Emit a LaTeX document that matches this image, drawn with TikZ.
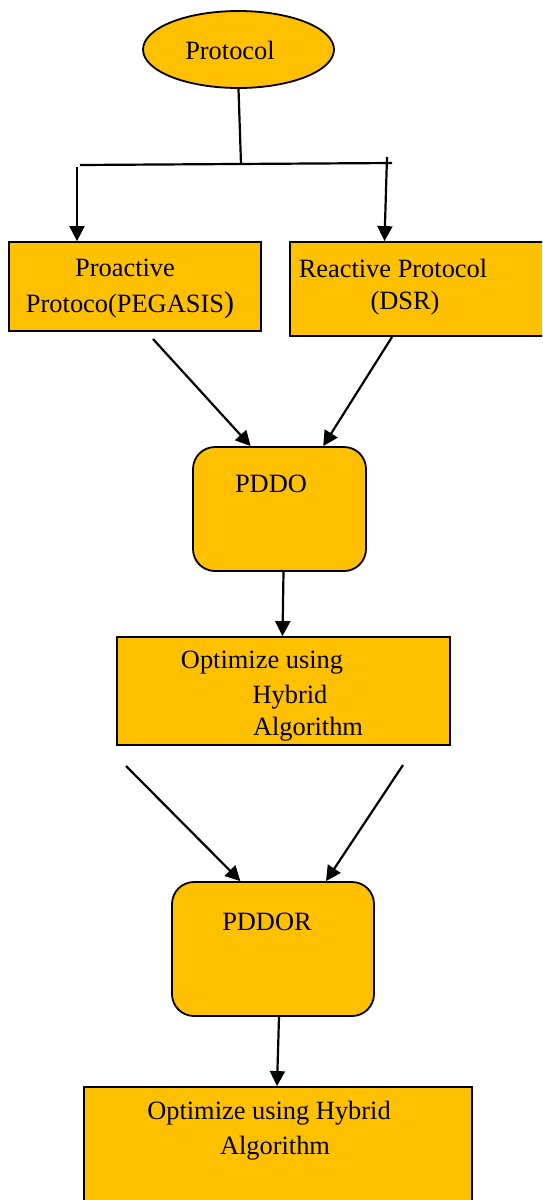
\documentclass[tikz,border=0pt]{standalone}
\usepackage{fontspec}
\setmainfont{Liberation Serif}
\usetikzlibrary{shapes.geometric,arrows.meta,calc}
\definecolor{gold}{RGB}{255,192,0}
\begin{document}
\begin{tikzpicture}[x=0.5pt,y=-0.5pt,
  box/.style={rectangle,draw,fill=gold,line width=0.9pt,inner sep=0pt},
  rbox/.style={box,rounded corners=11pt},
  txt/.style={inner sep=0pt,font=\fontsize{13.2}{16}\selectfont},
  ln/.style={line width=1.1pt},
  arr/.style={-{Triangle[length=7.5pt,width=7.5pt]},line width=1.1pt}]
	\useasboundingbox (0,0) rectangle (542,1200);
	\clip (0,0) rectangle (542,1200);
	% boxes
	\node[ellipse,draw,fill=gold,line width=0.9pt,inner sep=0pt,minimum width=95.5pt,minimum height=38.5pt] (proto) at (238.5,49.5) {};
	\node[box,minimum width=126pt,minimum height=44.5pt] (proact) at (135,286.5) {};
	\node[box,minimum width=128pt,minimum height=47pt] (react) at (418,289) {};
	\node[rbox,minimum width=86.5pt,minimum height=62pt] (pddo) at (279.5,509) {};
	\node[box,minimum width=166.5pt,minimum height=54pt] (opt) at (283.5,691) {};
	\node[rbox,minimum width=101pt,minimum height=67pt] (pddor) at (273,949) {};
	\node[box,minimum width=194pt,minimum height=59pt] (optb) at (278,1146) {};
	% texts
	\node[txt] (tproto) at (230,50) {Protocol};
	\node[txt] (tproa) at (125,268) {Proactive};
	\node[txt] (tprob) at (130,305) {Protoco(PEGASIS{\fontsize{15}{16}\selectfont)}};
	\node[txt] (treaa) at (393,268) {Reactive Protocol};
	\node[txt] (treab) at (405,303) {(DSR)};
	\node[txt] (tpddo) at (271,484) {PDDO};
	\node[txt] (topta) at (262,663) {Optimize using};
	\node[txt] (toptb) at (290,697) {Hybrid};
	\node[txt] (toptc) at (308,729) {Algorithm};
	\node[txt] (tpddor) at (267,922) {PDDOR};
	\node[txt] (toptd) at (269,1113) {Optimize using Hybrid};
	\node[txt] (topte) at (275,1148) {Algorithm};
	% connectors
	\coordinate (jn) at (241,164);
	\coordinate (hl) at (80,165);
	\coordinate (hr) at (392,163);
	\coordinate (vl) at (77,167);
	\coordinate (vr) at (387,157);
	\draw[ln] (proto.south) -- (jn);
	\draw[ln] (hl) -- (hr);
	\draw[arr] (vl) -- (vl |- proact.north);
	\draw[arr] (vr) -- ($(react.north west)!0.37!(react.north east)$);
	\coordinate (s1) at (153,339);
	\coordinate (s2) at (392,337);
	\draw[arr] (s1) -- ($(pddo.north west)!0.335!(pddo.north east)$);
	\draw[arr] (s2) -- ($(pddo.north west)!0.75!(pddo.north east)$);
	\draw[arr] ($(pddo.south)+(4,0)$) -- ($(opt.north)+(-1,0)$);
	\coordinate (s3) at (126,766);
	\coordinate (s4) at (403,765);
	\draw[arr] (s3) -- ($(pddor.north west)!0.34!(pddor.north east)$);
	\draw[arr] (s4) -- ($(pddor.north west)!0.76!(pddor.north east)$);
	\draw[arr] ($(pddor.south)+(6,0)$) -- ($(optb.north)+(-1,0)$);
\end{tikzpicture}
\end{document}
